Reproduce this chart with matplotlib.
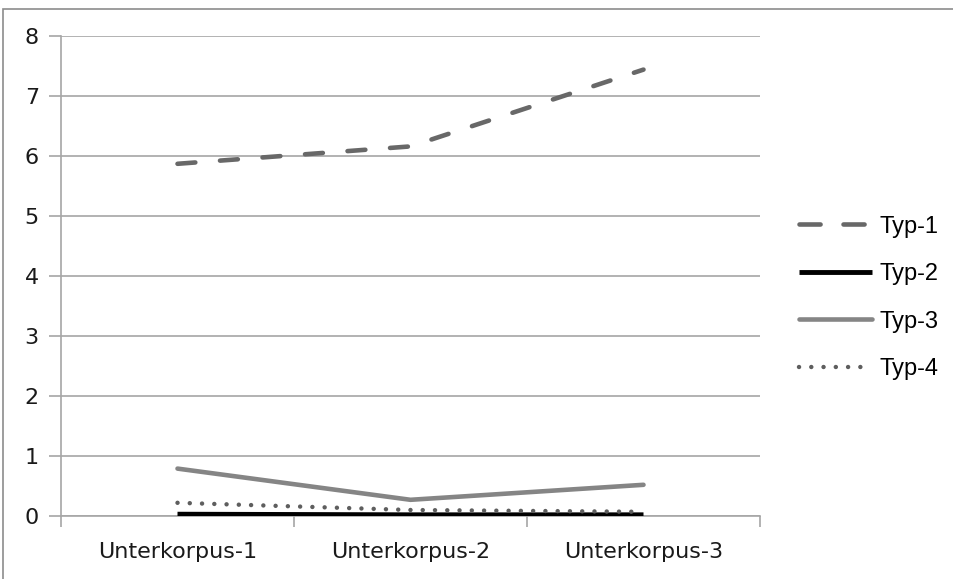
import matplotlib
matplotlib.use("Agg")
import matplotlib.pyplot as plt
from matplotlib.patches import Rectangle
from matplotlib.lines import Line2D
import numpy as np

# categories and series values
categories = ["Unterkorpus-1", "Unterkorpus-2", "Unterkorpus-3"]
typ1 = [5.87, 6.16, 7.44]
typ2 = [0.03, 0.02, 0.02]
typ3 = [0.79, 0.27, 0.52]
typ4 = [0.22, 0.10, 0.07]
series_names = ["Typ-1", "Typ-2", "Typ-3", "Typ-4"]
y_ticks = [0, 1, 2, 3, 4, 5, 6, 7, 8]

GRID = "#a6a6a6"

fig = plt.figure(figsize=(9.54, 5.79), dpi=100)
# outer chart frame
fig.patches.append(Rectangle((3.5 / 954, -0.01), 1.0, 1 - 9 / 579 + 0.01,
                             transform=fig.transFigure, fill=False,
                             edgecolor="#8c8c8c", linewidth=1.2))

ax = fig.add_axes([61 / 954, 1 - 516 / 579, (760 - 61) / 954, (516 - 36) / 579])

styles = [
    dict(color="#686868", linewidth=3.3, linestyle=(0, (3.9, 5.4)), capstyle="round"),
    dict(color="#000000", linewidth=3.5, linestyle="-", capstyle="butt"),
    dict(color="#858585", linewidth=3.3, linestyle="-", capstyle="round"),
    dict(color="#5e5e5e", linewidth=3.2, linestyle=(0, (0.01, 2.75)), capstyle="round"),
]
data = [typ1, typ2, typ3, typ4]
x = np.arange(len(categories))

for vals, st in zip(data, styles):
    ax.plot(x, vals, color=st["color"], linewidth=st["linewidth"],
            linestyle=st["linestyle"], solid_capstyle=st["capstyle"],
            dash_capstyle=st["capstyle"], solid_joinstyle="round",
            dash_joinstyle="round", zorder=3)

ax.set_xlim(-0.5, len(categories) - 0.5)
ax.set_ylim(0, 8)
ax.set_yticks(y_ticks)
ax.set_yticklabels([str(t) for t in y_ticks], fontsize=16, family="DejaVu Sans",
                   color="#1a1a1a")
ax.yaxis.grid(True, color=GRID, linewidth=1.2)
ax.set_axisbelow(True)

ax.set_xticks(np.arange(-0.5, len(categories), 1.0))
ax.set_xticklabels([])
ax.set_xticks(x, minor=True)
ax.set_xticklabels(categories, minor=True, fontsize=16, family="DejaVu Sans",
                   color="#1a1a1a")
ax.tick_params(axis="x", which="minor", length=0, pad=19)
ax.tick_params(axis="x", which="major", length=8, width=1.2, color=GRID)
ax.tick_params(axis="y", length=9, width=1.2, color=GRID, pad=7)

for side in ["top", "right"]:
    ax.spines[side].set_visible(False)
for side in ["left", "bottom"]:
    ax.spines[side].set_color(GRID)
    ax.spines[side].set_linewidth(1.2)

# legend keys: the dashed key uses longer dashes than the plotted line
legend_dash = [(0, (4.6, 5.0)), "-", "-", (0, (0.01, 2.75))]
handles = [Line2D([0], [0], color=st["color"], linewidth=st["linewidth"],
                  linestyle=ls, solid_capstyle=st["capstyle"],
                  dash_capstyle=st["capstyle"]) for st, ls in zip(styles, legend_dash)]
ax.legend(handles, series_names, loc="center left", frameon=False,
          bbox_to_anchor=(799 / 954, 1 - 298 / 579), bbox_transform=fig.transFigure,
          borderpad=0, borderaxespad=0, handlelength=3.1, handletextpad=0.3,
          labelspacing=1.08, prop={"family": "Liberation Sans", "size": 17})

fig.savefig("out.png", dpi=100)
